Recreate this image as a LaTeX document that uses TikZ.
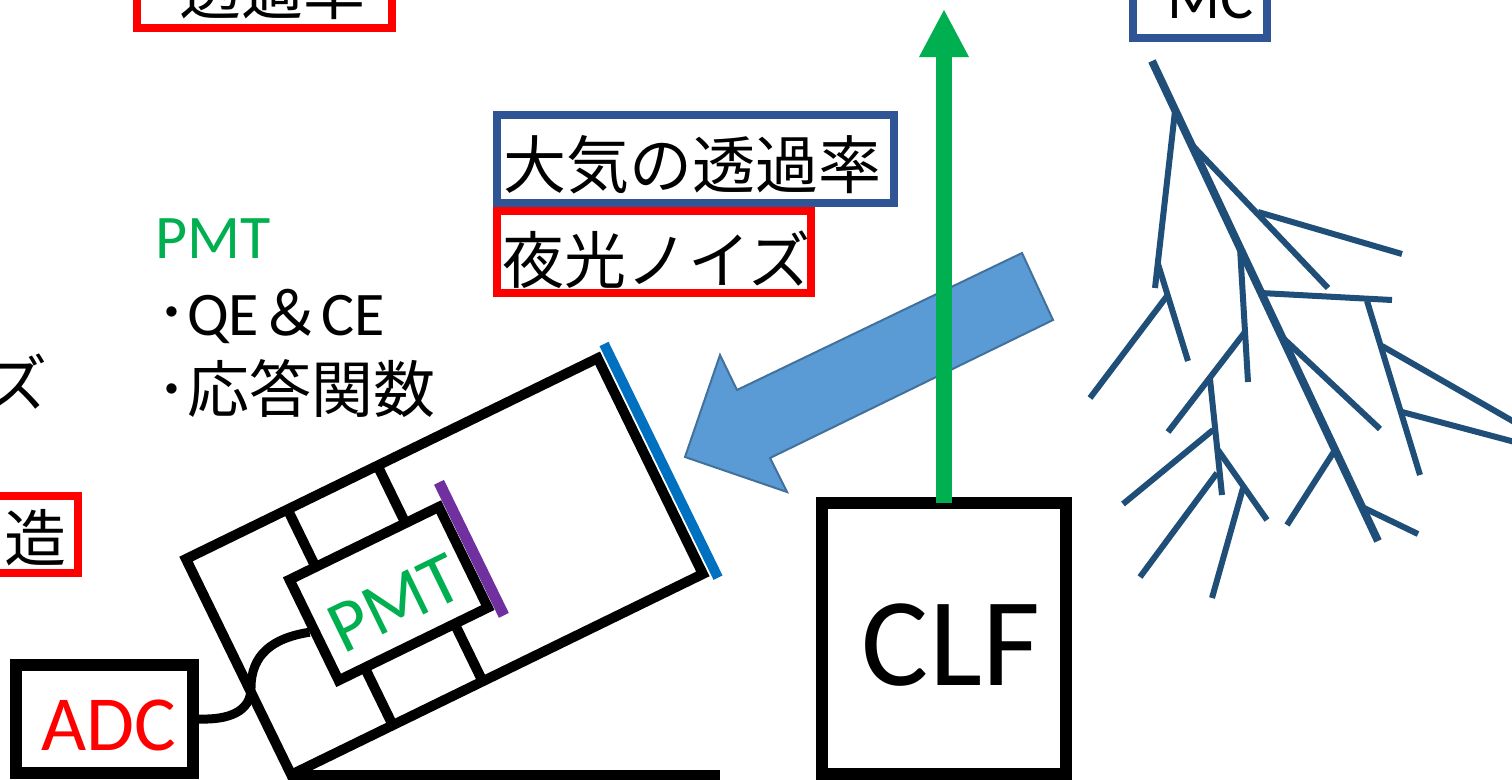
\documentclass[tikz,border=0pt]{standalone}
\usepackage{fontspec}
\setmainfont{Carlito}
\newfontfamily\jp{Noto Sans CJK JP}
\usetikzlibrary{calc}
\definecolor{frameblue}{HTML}{2F5597}
\definecolor{framered}{HTML}{FF0000}
\definecolor{pmtgreen}{HTML}{00B050}
\definecolor{windowblue}{HTML}{0070C0}
\definecolor{photocath}{HTML}{7030A0}
\definecolor{lightfill}{HTML}{5B9BD5}
\definecolor{lightedge}{HTML}{41719C}
\definecolor{showerblue}{HTML}{1F4E79}

\begin{document}
\begin{tikzpicture}[x=1pt,y=-1pt,
  txt/.style={inner sep=0pt, anchor=base west, font=\fontsize{62}{74}\selectfont},
  jptxt/.style={inner sep=0pt, anchor=base west, font=\fontsize{62}{74}\selectfont\jp},
  labelbox/.style={line width=8pt},
  hull/.style={line width=10pt},
  unitbox/.style={draw, line width=12pt, inner sep=0pt},
  trunk/.style={showerblue, line width=8pt},
  branch/.style={showerblue, line width=6pt}]

\useasboundingbox (0,0) rectangle (1512,779);
\fill[white] (0,0) rectangle (1512,779);
\clip (0,0) rectangle (1512,779);

% ---- label boxes ----
\draw[labelbox, framered] (137,-60) rectangle (392,28);
\node[jptxt] (transtop) at (179,14) {透過率};

\draw[labelbox, frameblue] (1133,-60) rectangle (1267,38);
\node[txt] (mc) at (1136,18) {{\jp ･}MC};

\node[jptxt] (noiseleft) at (-15,406) {ズ};
\draw[labelbox, framered] (-60,496) rectangle (78,573);
\node[jptxt] (structleft) at (4,561) {造};

\draw[labelbox, frameblue] (497,115) rectangle (894,203);
\node[jptxt, font=\fontsize{63}{75}\selectfont\jp] (atm) at (503,188) {大気の透過率};
\draw[labelbox, framered] (497,211) rectangle (811,293);
\node[jptxt] (nsb) at (502,283) {夜光ノイズ};

% ---- PMT notes ----
\node[txt, text=pmtgreen] (pmthead) at (155,258) {PMT};
\node[txt] (qe) at (156,335) {{\jp ･}QE{\jp ＆}CE};
\node[jptxt] (resp) at (156,412) {･応答関数};

% ---- incoming light (block arrow) ----
\filldraw[fill=lightfill, draw=lightedge, line width=2pt]
  (1022,253) -- (737,390) -- (720,355) -- (685,457) -- (787,492) -- (770,458) -- (1053,320) -- cycle;

% ---- CLF and its vertical laser beam ----
\node[unitbox, minimum width=244pt, minimum height=271pt] (clf) at (944,638.5) {};
\node[inner sep=0pt, anchor=base, font=\fontsize{126}{150}\selectfont] (clftext) at (951,685) {CLF};
\coordinate (beambase) at (944,57);
\coordinate (beamtip) at (944,10);
\draw[pmtgreen, line width=16pt] ($(clf.north)+(0,6)$) -- (beambase);
\fill[pmtgreen] ($(beambase)+(-25,0)$) -- (beamtip) -- ($(beambase)+(25,0)$) -- cycle;

% ---- ADC ----
\node[unitbox, minimum width=177pt, minimum height=108pt] (adc) at (104.5,719) {};
\node[inner sep=0pt, anchor=base, text=framered, font=\fontsize{78}{94}\selectfont] (adctext) at (109,750) {ADC};

% ---- telescope ----
\begin{scope}[shift={(186,559)}, rotate=26]
  \draw[hull] (0,0) rectangle (458,240);
  \node[draw, hull, minimum width=166pt, minimum height=112pt, inner sep=0pt, transform shape] (pmtbox) at (167,120) {};
  \draw[hull] (113,0) -- (113,64) (213,0) -- (213,64)
              (113,176) -- (113,240) (213,176) -- (213,240);
  \draw[line width=11pt, photocath] (261,42) -- (261,190);
  \draw[line width=10pt, windowblue] (470,-10) -- (470,250);
  \node[rotate=26, inner sep=0pt, text=pmtgreen, font=\fontsize{74}{88}\selectfont] (pmtlabel) at (168,131) {PMT};
\end{scope}

% signal cable from the PMT to the ADC
\draw[line width=9pt] (pmtbox.west) .. controls (272,638) and (251,655) .. (251,688)
  .. controls (251,712) and (228,720) .. (adc.east);

% ground
\draw[line width=10pt] (290,775) -- (720,775);

% ---- air shower ----
\draw[trunk] (1152,61) -- (1378,541);
\draw[branch] (1175,111) -- (1155,288);
\draw[branch] (1158,264) -- (1188,361);
\draw[branch] (1167,296) -- (1090,398);
\draw[branch] (1192,145) -- (1328,288);
\draw[branch] (1258,212) -- (1402,254);
\draw[branch] (1240,248) -- (1248,382);
\draw[branch] (1245,332) -- (1168,432);
\draw[branch] (1210,379) -- (1222,495);
\draw[branch] (1213,430) -- (1123,504);
\draw[branch] (1218,450) -- (1267,520);
\draw[branch] (1217,473) -- (1140,577);
\draw[branch] (1243,488) -- (1212,598);
\draw[branch] (1261,293) -- (1392,300);
\draw[branch] (1367,301) -- (1420,475);
\draw[branch] (1382,346) -- (1530,431);
\draw[branch] (1402,412) -- (1530,446);
\draw[branch] (1283,338) -- (1380,429);
\draw[branch] (1335,450) -- (1287,525);
\draw[branch] (1362,507) -- (1418,534);

\end{tikzpicture}
\end{document}
